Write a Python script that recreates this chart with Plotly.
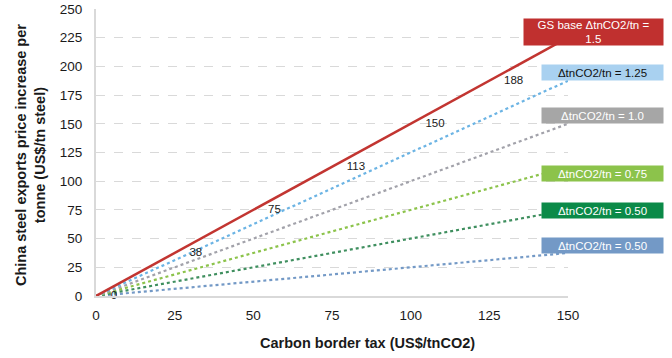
import plotly.graph_objects as go

# ---- data ----
carbon_tax = [0, 25, 50, 75, 100, 125, 150]
gs_base_15 = [0, 37.5, 75, 112.5, 150, 187.5, 225]
delta_125 = [0, 31.25, 62.5, 93.75, 125, 156.25, 187.5]
delta_100 = [0, 25, 50, 75, 100, 125, 150]
delta_075 = [0, 18.75, 37.5, 56.25, 75, 93.75, 112.5]
delta_050 = [0, 12.5, 25, 37.5, 50, 62.5, 75]
delta_025 = [0, 6.25, 12.5, 18.75, 25, 31.25, 37.5]
gs_labels = ["0", "38", "75", "113", "150", "188", ""]

series_names = ["GS base ΔtnCO2/tn =<br>1.5", "ΔtnCO2/tn = 1.25", "ΔtnCO2/tn = 1.0",
                "ΔtnCO2/tn = 0.75", "ΔtnCO2/tn = 0.50", "ΔtnCO2/tn = 0.50"]
y_ticks = [0, 25, 50, 75, 100, 125, 150, 175, 200, 225, 250]
x_ticks = [0, 25, 50, 75, 100, 125, 150]

FONT = "Liberation Sans, Arial, sans-serif"

dotted = [
    (delta_025, "#7399c6"),
    (delta_050, "#3f8f5f"),
    (delta_075, "#8cc34b"),
    (delta_100, "#a2a2aa"),
    (delta_125, "#6cb4e4"),
]

fig = go.Figure()
for vals, col in dotted:
    fig.add_trace(go.Scatter(x=carbon_tax, y=vals, mode="lines",
                             line=dict(color=col, width=2.2, dash="dot"),
                             showlegend=False, hoverinfo="skip"))

fig.add_trace(go.Scatter(x=carbon_tax, y=gs_base_15, mode="lines+markers+text",
                         line=dict(color="#c23531", width=2.5),
                         marker=dict(size=22, color="rgba(0,0,0,0)"),
                         text=gs_labels, textposition="middle right",
                         textfont=dict(family=FONT, size=11.5, color="#1a1a1a"),
                         showlegend=False, hoverinfo="skip", cliponaxis=False))

# series label boxes (right side)
boxes = [
    (series_names[0], 230, "#c0302f", "white", 139, 26),
    (series_names[1], 194.7, "#a9d1f0", "#111111", 121, 15),
    (series_names[2], 157.2, "#a6a6a6", "white", 121, 15),
    (series_names[3], 107.1, "#8cc34b", "white", 121, 15),
    (series_names[4], 74.9, "#0b8a48", "white", 121, 15),
    (series_names[5], 44.4, "#7399c6", "white", 121, 15),
]
x_right = (664 - 96) / 472
for txt, yv, bg, fc, w, h in boxes:
    fig.add_annotation(x=x_right, xref="paper", y=yv, yref="y",
                       xanchor="right", yanchor="middle", text=txt,
                       showarrow=False, bgcolor=bg, width=w, height=h,
                       borderpad=0, align="center",
                       font=dict(family=FONT, size=11.5, color=fc))

# axis titles
fig.add_annotation(x=(367 - 96) / 472, xref="paper", y=(296 - 343) / 287, yref="paper",
                   xanchor="center", yanchor="middle", showarrow=False,
                   text="<b>Carbon border tax (US$/tnCO2)</b>",
                   font=dict(family=FONT, size=14.5, color="#1a1a1a"))
fig.add_annotation(x=(30 - 96) / 472, xref="paper", y=(296 - 155) / 287, yref="paper",
                   xanchor="center", yanchor="middle", showarrow=False, textangle=-90,
                   text="<b>China steel exports price increase per<br>tonne (US$/tn steel)</b>",
                   font=dict(family=FONT, size=14.5, color="#1a1a1a"))

fig.update_layout(
    width=672, height=358,
    margin=dict(l=96, r=104, t=9, b=62, autoexpand=False),
    paper_bgcolor="white", plot_bgcolor="white",
    font=dict(family=FONT, color="#1a1a1a"),
    xaxis=dict(range=[0, 150], tickvals=x_ticks, showgrid=False, zeroline=False,
               showline=True, linecolor="#d9d9d9", linewidth=2,
               ticks="outside", ticklen=6, tickcolor="rgba(0,0,0,0)",
               tickfont=dict(family=FONT, size=13.5, color="#1a1a1a")),
    yaxis=dict(range=[0, 250], tickvals=y_ticks, showgrid=True, gridcolor="#d9d9d9",
               griddash="dash", gridwidth=1, zeroline=False,
               showline=True, linecolor="#d9d9d9", linewidth=2,
               ticks="outside", ticklen=9, tickcolor="rgba(0,0,0,0)",
               tickfont=dict(family=FONT, size=13.5, color="#1a1a1a")),
)

fig.write_html("out.html", config={"displayModeBar": False},
               post_script="document.body.style.margin='0';document.body.style.overflow='hidden';")
